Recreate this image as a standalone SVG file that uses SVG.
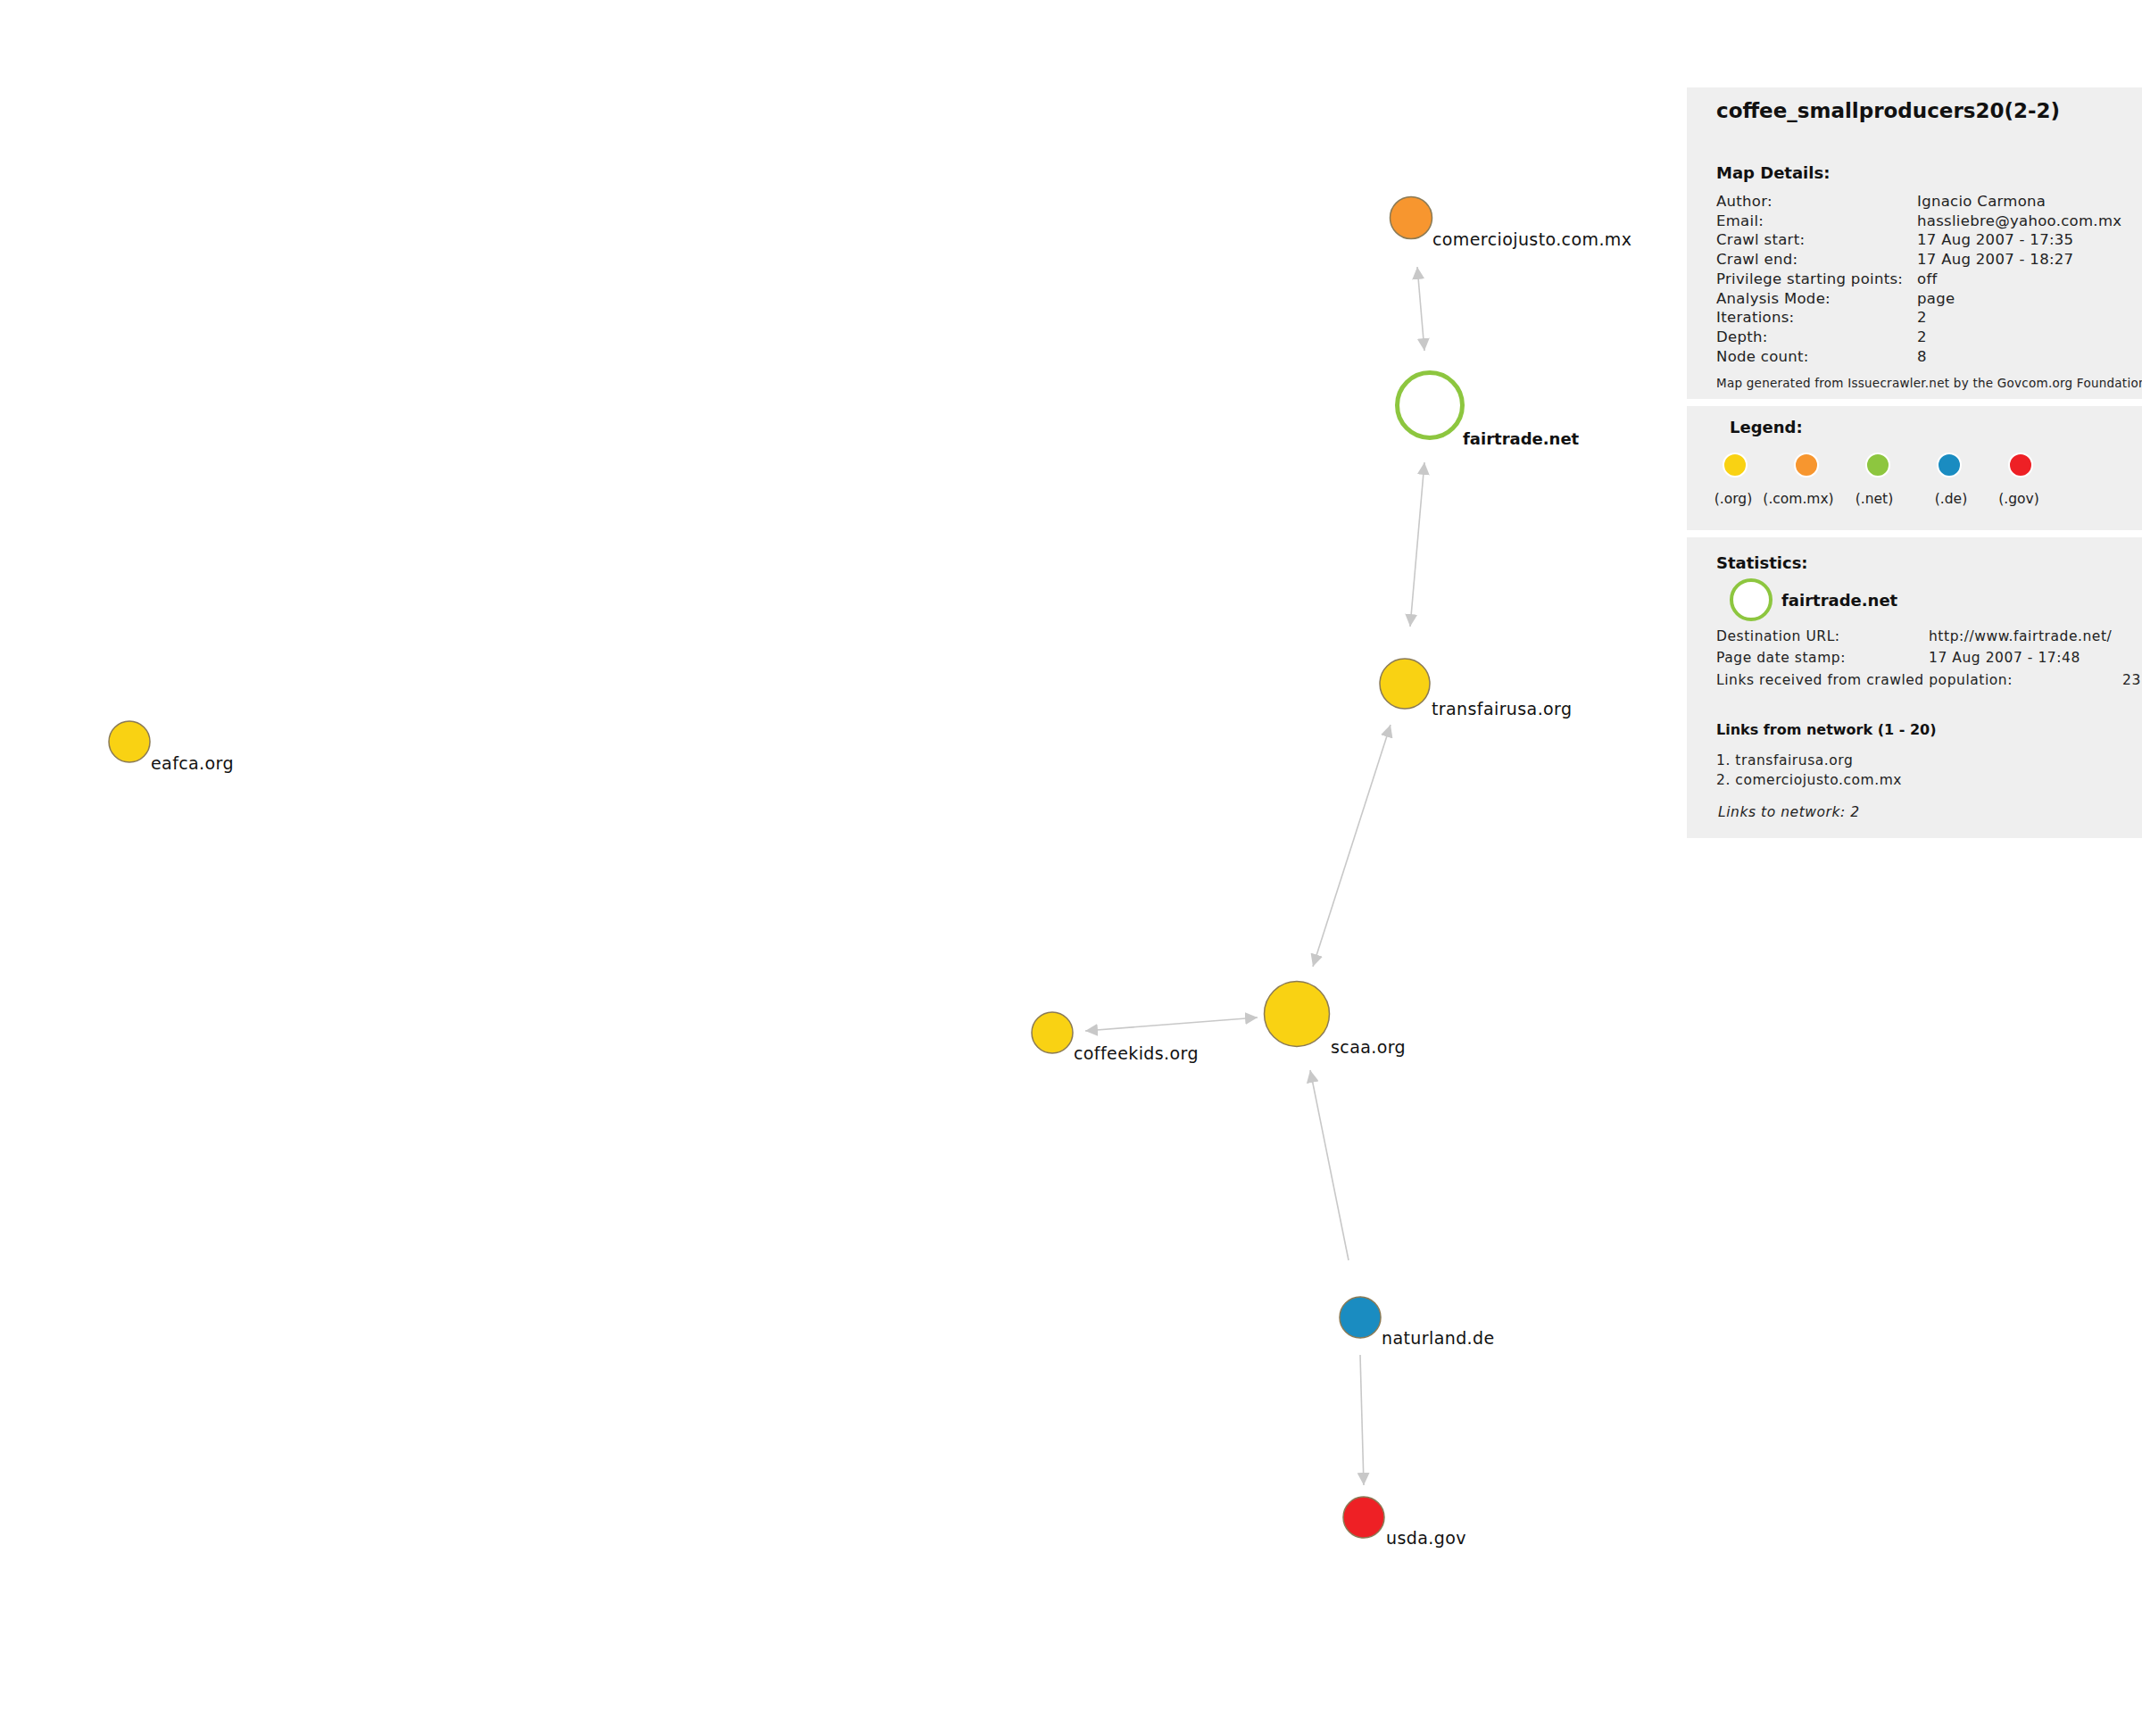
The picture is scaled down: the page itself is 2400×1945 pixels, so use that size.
<svg xmlns="http://www.w3.org/2000/svg" width="2400" height="1945" viewBox="0 0 2400 1945">
<style>
text{font-family:"DejaVu Sans","Liberation Sans",sans-serif;fill:#111}
.lbl{font-size:19px;letter-spacing:0.4px}
.lblb{font-size:18px;font-weight:bold}
.edge{stroke:#c8c8c8;stroke-width:1.6;fill:none}
.node{stroke:#8a7a55;stroke-width:1.5}
.org{fill:#f9d213}
.panel{fill:#efefef}
.h{font-size:18px;font-weight:bold}
.t{font-size:16.5px;letter-spacing:0.3px;fill:#222}
.s{font-size:15.5px;letter-spacing:0.55px;fill:#222}
.lg{font-size:15.5px;fill:#222;text-anchor:middle}
.leg{stroke:#fff;stroke-width:2}
</style>
<defs>
<marker id="ah" viewBox="0 0 14 14" refX="14" refY="7" markerWidth="14" markerHeight="14" markerUnits="userSpaceOnUse" orient="auto-start-reverse">
<path d="M0,0 L14,7 L0,14 z" fill="#c8c8c8"/>
</marker>
</defs>
<rect width="2400" height="1945" fill="#fff"/>

<g id="connectors">
<line class="edge" x1="1588" y1="299" x2="1596" y2="393" marker-start="url(#ah)" marker-end="url(#ah)"/>
<line class="edge" x1="1596" y1="518" x2="1580" y2="702" marker-start="url(#ah)" marker-end="url(#ah)"/>
<line class="edge" x1="1558" y1="812" x2="1471" y2="1083" marker-start="url(#ah)" marker-end="url(#ah)"/>
<line class="edge" x1="1216" y1="1155" x2="1409" y2="1140" marker-start="url(#ah)" marker-end="url(#ah)"/>
<line class="edge" x1="1511" y1="1412" x2="1468" y2="1199" marker-end="url(#ah)"/>
<line class="edge" x1="1524" y1="1518" x2="1528" y2="1664" marker-end="url(#ah)"/>
</g>

<g id="node-comerciojusto">
<circle class="node" cx="1581" cy="244" r="23.5" fill="#f7962f"/>
<text class="lbl" x="1605" y="275">comerciojusto.com.mx</text>
</g>
<g id="node-fairtrade">
<circle cx="1602" cy="454" r="36.5" fill="#fff" stroke="#8dc63f" stroke-width="5"/>
<text class="lblb" x="1639" y="498">fairtrade.net</text>
</g>
<g id="node-transfairusa">
<circle class="node org" cx="1574" cy="766" r="28"/>
<text class="lbl" x="1604" y="801">transfairusa.org</text>
</g>
<g id="node-scaa">
<circle class="node org" cx="1453" cy="1136" r="36.5"/>
<text class="lbl" x="1491" y="1180">scaa.org</text>
</g>
<g id="node-coffeekids">
<circle class="node org" cx="1179" cy="1157" r="23"/>
<text class="lbl" x="1203" y="1187">coffeekids.org</text>
</g>
<g id="node-naturland">
<circle class="node" cx="1524" cy="1476" r="23" fill="#1a8cc1" stroke="#2a7a9e"/>
<text class="lbl" x="1548" y="1506">naturland.de</text>
</g>
<g id="node-usda">
<circle class="node" cx="1528" cy="1700" r="23" fill="#ee2025" stroke="#9a4a40"/>
<text class="lbl" x="1553" y="1730">usda.gov</text>
</g>
<g id="node-eafca">
<circle class="node org" cx="145" cy="831" r="23"/>
<text class="lbl" x="169" y="862">eafca.org</text>
</g>

<g id="panel-details">
<rect class="panel" x="1890" y="98" width="510" height="349"/>
<text x="1923" y="132" style="font-size:23px;font-weight:bold">coffee_smallproducers20(2-2)</text>
<text class="h" x="1923" y="200">Map Details:</text>
<text class="t" x="1923" y="231">Author:</text><text class="t" x="2148" y="231">Ignacio Carmona</text>
<text class="t" x="1923" y="252.7">Email:</text><text class="t" x="2148" y="252.7">hassliebre@yahoo.com.mx</text>
<text class="t" x="1923" y="274.4">Crawl start:</text><text class="t" x="2148" y="274.4">17 Aug 2007 - 17:35</text>
<text class="t" x="1923" y="296">Crawl end:</text><text class="t" x="2148" y="296">17 Aug 2007 - 18:27</text>
<text class="t" x="1923" y="317.8">Privilege starting points:</text><text class="t" x="2148" y="317.8">off</text>
<text class="t" x="1923" y="339.5">Analysis Mode:</text><text class="t" x="2148" y="339.5">page</text>
<text class="t" x="1923" y="361">Iterations:</text><text class="t" x="2148" y="361">2</text>
<text class="t" x="1923" y="383">Depth:</text><text class="t" x="2148" y="383">2</text>
<text class="t" x="1923" y="404.7">Node count:</text><text class="t" x="2148" y="404.7">8</text>
<text x="1923" y="434" style="font-size:13.5px;letter-spacing:0.25px;fill:#222">Map generated from Issuecrawler.net by the Govcom.org Foundation</text>
</g>

<g id="panel-legend">
<rect class="panel" x="1890" y="455" width="510" height="139"/>
<text class="h" x="1938" y="485">Legend:</text>
<circle class="leg" cx="1944" cy="521" r="13" fill="#f9d213"/>
<circle class="leg" cx="2024" cy="521" r="13" fill="#f7962f"/>
<circle class="leg" cx="2104" cy="521" r="13" fill="#8dc63f"/>
<circle class="leg" cx="2184" cy="521" r="13" fill="#1a8cc1"/>
<circle class="leg" cx="2264" cy="521" r="13" fill="#ee2025"/>
<text class="lg" x="1942" y="564">(.org)</text>
<text class="lg" x="2015" y="564">(.com.mx)</text>
<text class="lg" x="2100" y="564">(.net)</text>
<text class="lg" x="2186" y="564">(.de)</text>
<text class="lg" x="2262" y="564">(.gov)</text>
</g>

<g id="panel-statistics">
<rect class="panel" x="1890" y="602" width="510" height="337"/>
<text class="h" x="1923" y="637">Statistics:</text>
<circle cx="1962" cy="672" r="22" fill="#fff" stroke="#8dc63f" stroke-width="4"/>
<text class="lblb" x="1996" y="679">fairtrade.net</text>
<text class="s" x="1923" y="718">Destination URL:</text><text class="s" x="2161" y="718">http://www.fairtrade.net/</text>
<text class="s" x="1923" y="742">Page date stamp:</text><text class="s" x="2161" y="742">17 Aug 2007 - 17:48</text>
<text class="s" x="1923" y="767">Links received from crawled population:</text><text class="s" x="2378" y="767">23</text>
<text x="1923" y="823" style="font-size:16px;font-weight:bold">Links from network (1 - 20)</text>
<text class="s" x="1923" y="857">1. transfairusa.org</text>
<text class="s" x="1923" y="879">2. comerciojusto.com.mx</text>
<text class="s" x="1925" y="915" style="font-style:italic">Links to network: 2</text>
</g>
</svg>
